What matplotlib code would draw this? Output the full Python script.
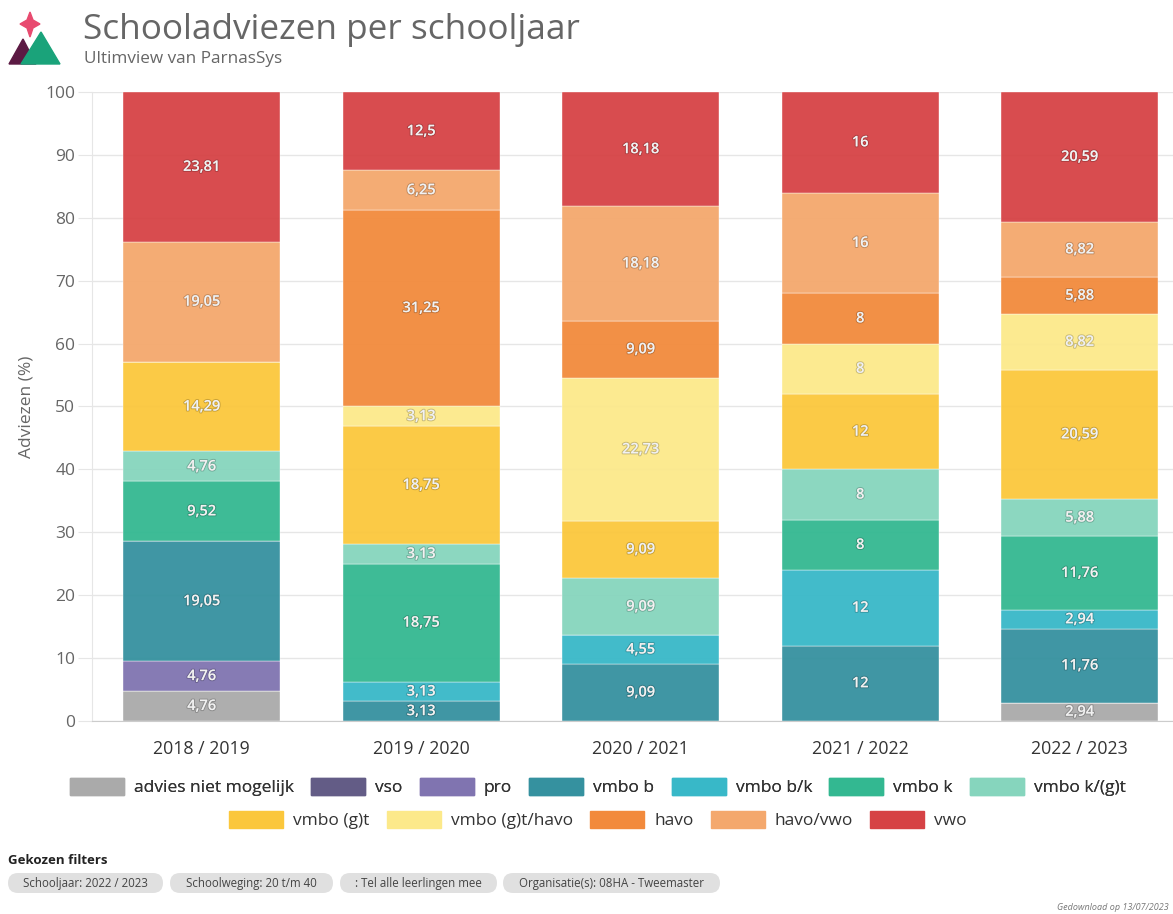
import numpy as np
import matplotlib.pyplot as plt
import matplotlib.patheffects as pe
from matplotlib.patches import Polygon, Rectangle, FancyBboxPatch
from matplotlib.transforms import IdentityTransform

# ---- data ----
years = ["2018 / 2019", "2019 / 2020", "2020 / 2021", "2021 / 2022", "2022 / 2023"]
categories = ["advies niet mogelijk", "vso", "pro", "vmbo b", "vmbo b/k", "vmbo k",
              "vmbo k/(g)t", "vmbo (g)t", "vmbo (g)t/havo", "havo", "havo/vwo", "vwo"]
colors = ["#aaaaaa", "#635c86", "#8074b0", "#35919f", "#38b8c8", "#33b891",
          "#86d5bd", "#fbc73c", "#fce98a", "#f28a3c", "#f4a86d", "#d64245"]

advies_niet_mogelijk = [4.76, 0, 0, 0, 2.94]
vso = [0, 0, 0, 0, 0]
pro = [4.76, 0, 0, 0, 0]
vmbo_b = [19.05, 3.13, 9.09, 12, 11.76]
vmbo_bk = [0, 3.13, 4.55, 12, 2.94]
vmbo_k = [9.52, 18.75, 0, 8, 11.76]
vmbo_kgt = [4.76, 3.13, 9.09, 8, 5.88]
vmbo_gt = [14.29, 18.75, 9.09, 12, 20.59]
vmbo_gt_havo = [0, 3.13, 22.73, 8, 8.82]
havo = [0, 31.25, 9.09, 8, 5.88]
havo_vwo = [19.05, 6.25, 18.18, 16, 8.82]
vwo = [23.81, 12.5, 18.18, 16, 20.59]

series = [advies_niet_mogelijk, vso, pro, vmbo_b, vmbo_bk, vmbo_k, vmbo_kgt,
          vmbo_gt, vmbo_gt_havo, havo, havo_vwo, vwo]

filters = ["Schooljaar: 2022 / 2023", "Schoolweging: 20 t/m 40",
           ": Tel alle leerlingen mee", "Organisatie(s): 08HA - Tweemaster"]

plt.rcParams["font.family"] = ["Open Sans", "DejaVu Sans"]

W, H = 1173, 914
fig = plt.figure(figsize=(W / 100, H / 100), dpi=100)

# plot area (right side runs off the image like in the export)
ax = fig.add_axes([92 / W, 1 - 721 / H, 1097.5 / W, (721 - 92) / H])
x = np.arange(len(years))
bottom = np.zeros(len(years))
for name, vals, col in zip(categories, series, colors):
    vals = np.array(vals, dtype=float)
    ax.bar(x, vals, bottom=bottom, width=0.715, color=col, alpha=0.95,
           edgecolor="white", linewidth=0.3, zorder=2)
    for xi, v, b in zip(x, vals, bottom):
        if v > 0:
            lbl = ("%g" % v).replace(".", ",")
            ax.text(xi, b + v / 2, lbl, ha="center", va="center", fontsize=10.5,
                    color="#f2f2f2", fontweight="semibold", zorder=3,
                    path_effects=[pe.withStroke(linewidth=1.5, foreground="#00000030")])
    bottom += vals

ax.set_xlim(-0.5, len(years) - 0.5)
ax.set_ylim(0, 100)
ax.set_yticks(np.arange(0, 101, 10))
ax.set_xticks(x)
ax.set_xticklabels(years, fontsize=12.8, color="#333333")
ax.tick_params(axis="y", labelsize=12.5, colors="#e6e6e6", length=10, pad=2)
ax.tick_params(axis="y", labelcolor="#666666")
ax.tick_params(axis="x", length=0, pad=14)
ax.grid(axis="y", color="#e6e6e6", linewidth=1, zorder=0)
for s in ["top", "right"]:
    ax.spines[s].set_visible(False)
ax.spines["left"].set_color("#e6e6e6")
ax.spines["bottom"].set_color("#cccccc")
ax.set_ylabel("Adviezen (%)", fontsize=12.5, color="#666666", labelpad=8)

# legend in two centred rows
handles = [Rectangle((0, 0), 1, 1, color=c) for c in colors]
kw = dict(frameon=False, fontsize=12.5, handlelength=3.1, handleheight=1.15,
          handletextpad=0.58, columnspacing=1.0, labelcolor="#333333")
leg1 = fig.legend(handles[:7], categories[:7], ncol=7, loc="center",
                  bbox_to_anchor=(598 / W, 1 - 787 / H), **kw)
fig.add_artist(leg1)
fig.legend(handles[7:], categories[7:], ncol=5, loc="center",
           bbox_to_anchor=(598 / W, 1 - 820 / H), **kw)

# header
fig.text(83 / W, 1 - 30 / H, "Schooladviezen per schooljaar", fontsize=25.3,
         color="#666666", va="center")
fig.text(84 / W, 1 - 59 / H, "Ultimview van ParnasSys", fontsize=12.3,
         color="#666666", va="center")

# logo
lax = fig.add_axes([6 / W, 1 - 66 / H, 58 / W, 56 / H])
lax.set_xlim(0, 58)
lax.set_ylim(0, 56)
lax.axis("off")
lax.add_patch(Polygon([[3, 2], [17, 27], [30, 2]], color="#5c1a43"))
lax.add_patch(Polygon([[15, 2], [35, 34], [54, 2]], color="#1aa37a"))
lax.add_patch(Polygon([[24, 54], [27, 46], [34, 42], [27, 38], [24, 29],
                       [21, 38], [14, 42], [21, 46]], color="#e84a6f"))

# chosen filters (pills in pixel coords)
fig.text(8 / W, 1 - 860 / H, "Gekozen filters", fontsize=9.5, fontweight="bold",
         color="#222222", va="center")
pills = [(8, 163), (170, 333), (340, 497), (503, 720)]
for (x0, x1), t in zip(pills, filters):
    fig.add_artist(FancyBboxPatch((x0, H - 893), x1 - x0, 20,
                                  boxstyle="round,pad=0,rounding_size=10",
                                  transform=IdentityTransform(), facecolor="#e0e0e0",
                                  edgecolor="none"))
    fig.text((x0 + x1) / 2 / W, 1 - 883.5 / H, t, fontsize=8.3, color="#444444",
             ha="center", va="center")
fig.text(1057 / W, 1 - 908 / H, "Gedownload op 13/07/2023", fontsize=6.5,
         style="italic", color="#777777", va="center")

fig.savefig("out.png", dpi=100, facecolor="white")
